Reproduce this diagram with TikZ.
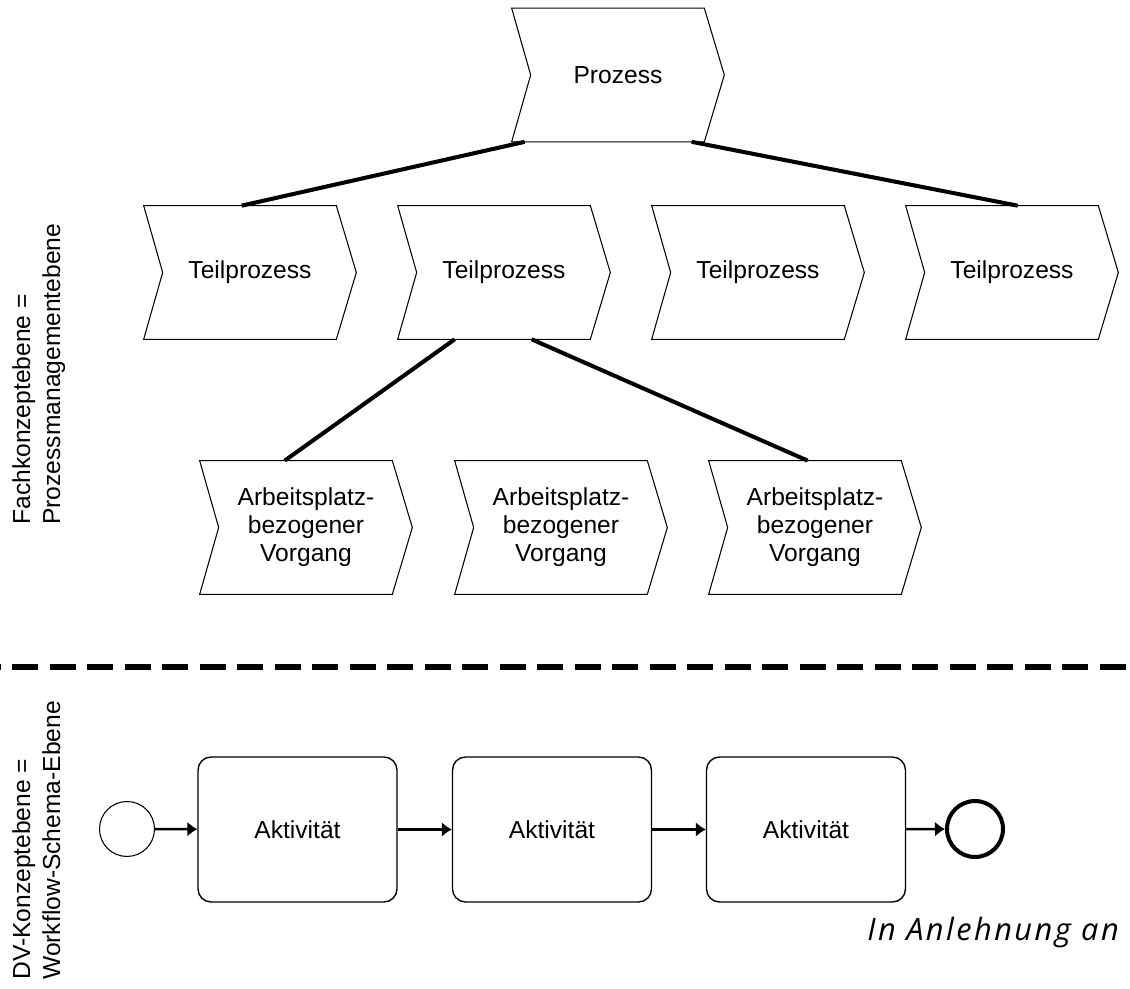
\documentclass[tikz,border=0pt]{standalone}
\usepackage{fontspec}
\setmainfont{Liberation Sans}
\newfontfamily\notefont[LetterSpace=8]{Open Sans}
\usetikzlibrary{calc,arrows.meta}

\begin{document}
\begin{tikzpicture}
  [x=0.02cm,y=-0.02cm,
   every node/.style={font=\fontsize{14}{16}\selectfont,inner sep=0pt},
   chevron/.style={minimum width=4.24cm,minimum height=2.66cm,align=center},
   task/.style={draw,rounded corners=0.26cm,minimum width=3.98cm,minimum height=2.9cm,line width=0.8pt},
   link/.style={line width=2.3pt},
   flow/.style={line width=1.4pt,-{Latex[length=0.2cm,width=0.3cm]}},
   layer/.style={rotate=90,anchor=north west,align=left,font=\fontsize{14}{17}\selectfont}]
  \useasboundingbox (0,0) rectangle (1130,989);

  \node[chevron] (p) at (618,75) {Prozess};
  \node[chevron] (t1) at (250,272.5) {Teilprozess};
  \node[chevron] (t2) at (504,272.5) {Teilprozess};
  \node[chevron] (t3) at (758,272.5) {Teilprozess};
  \node[chevron] (t4) at (1012,272.5) {Teilprozess};
  \node[chevron] (a1) at (306,527.5) {Arbeitsplatz-\\bezogener\\Vorgang};
  \node[chevron] (a2) at (561,527.5) {Arbeitsplatz-\\bezogener\\Vorgang};
  \node[chevron] (a3) at (815,527.5) {Arbeitsplatz-\\bezogener\\Vorgang};

  \foreach \n in {p,t1,t2,t3,t4,a1,a2,a3}
    \draw[line width=0.6pt] (\n.north west) -- ($(\n.north east)+(-20,0)$) -- (\n.east)
      -- ($(\n.south east)+(-20,0)$) -- (\n.south west) -- ($(\n.west)+(19,0)$) -- cycle;

  \foreach \from/\fx/\to/\tx in {p/13/t1/98,p/180/t4/112,t2/57/a1/85,t2/134/a3/99}
    \draw[link] ($(\from.south west)+(\fx,0)$) -- ($(\to.north west)+(\tx,0)$);

  \draw[line width=2.9pt,dash pattern=on 0.52cm off 0.23cm,dash phase=0.5cm] (0,667) -- (1130,667);

  \node[circle,draw,minimum size=1.1cm,line width=0.6pt] (start) at (127,829) {};
  \node[task] (k1) at (297.5,829.5) {Aktivität};
  \node[task] (k2) at (552,829.5) {Aktivität};
  \node[task] (k3) at (806,829.5) {Aktivität};
  \node[circle,draw,minimum size=1.12cm,line width=2.3pt] (end) at (975,829) {};

  \foreach \from/\to in {start/k1,k1/k2,k2/k3,k3/end}
    \draw[flow] (\from) -- (\to);

  \node[layer] (fk) at (12,525) {Fachkonzeptebene =\\Prozessmanagementebene};
  \node[layer] (dv) at (12,980) {DV-Konzeptebene =\\Workflow-Schema-Ebene};

  \node[font=\notefont\itshape\fontsize{17.5}{20}\selectfont,anchor=base west] (src) at (867,940) {In Anlehnung an};

\end{tikzpicture}
\end{document}
